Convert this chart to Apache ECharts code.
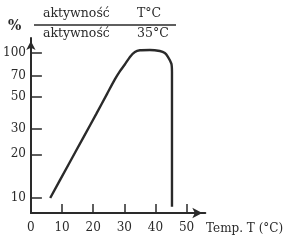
<!DOCTYPE html>
<html><head><meta charset="utf-8">
<script src="https://cdn.jsdelivr.net/npm/echarts@6/dist/echarts.min.js"></script>
<style>html,body{margin:0;padding:0;background:#fff}#c{width:300px;height:242px}</style>
</head><body><div id="c"></div>
<script>
const tempC    = [6.2, 12, 17, 21, 24.5, 27, 28.6, 30.1, 31.8, 33.4, 35, 38.2, 41.4, 43, 44, 45.1, 45.3, 45.3];
const activity = [10, 16.9, 26.5, 38, 52.5, 66, 75, 83, 94, 101.6, 104.4, 105, 103.2, 100, 94, 84.4, 74, 8.7];
const xTicks = [0, 10, 20, 30, 40, 50];
const yTicks = [10, 20, 30, 50, 70, 100];
const xName = 'Temp. T (°C)';
const yUnit = '%';
const numText = 'aktywność', numVal = 'T°C';
const denText = 'aktywność', denVal = '35°C';

const ink = '#2a2a2a';
const font = 'DejaVu Serif';
const chart = echarts.init(document.getElementById('c'), null, {renderer: 'canvas'});
chart.setOption({
  animation: false,
  backgroundColor: '#fff',
  grid: {left: 30, right: 94.7, top: 38, bottom: 29},
  xAxis: {
    type: 'value', min: 0, max: 56,
    axisLine: {show: true, lineStyle: {color: ink, width: 2}, symbol: ['none', 'arrow'], symbolSize: [8, 10], symbolOffset: [0, -3]},
    axisTick: {show: true, inside: true, length: 9, lineStyle: {color: ink, width: 1.5}, customValues: xTicks.slice(1)},
    axisLabel: {customValues: xTicks, margin: 9, color: ink, fontFamily: font, fontSize: 12},
    splitLine: {show: false}
  },
  yAxis: {
    type: 'log', min: 7.88, max: 126.9,
    axisLine: {show: true, lineStyle: {color: ink, width: 2}, symbol: ['none', 'arrow'], symbolSize: [7, 9], symbolOffset: [0, -3]},
    axisTick: {show: true, inside: true, length: 11, lineStyle: {color: ink, width: 1.5}, customValues: yTicks},
    axisLabel: {customValues: yTicks, margin: 5, color: ink, fontFamily: font, fontSize: 12,
      formatter: v => String(Math.round(v))},
    splitLine: {show: false}
  },
  series: [{
    type: 'line', data: tempC.map((t, i) => [t, activity[i]]),
    showSymbol: false, smooth: 0.25,
    lineStyle: {color: ink, width: 2.4}
  }],
  graphic: [
    {type: 'text', left: 8, top: 19, style: {text: yUnit, font: 'bold 14px "DejaVu Serif"', fill: ink}},
    {type: 'text', left: 43, top: 7, style: {text: numText, font: '12.5px "DejaVu Serif"', fill: ink}},
    {type: 'text', left: 137, top: 7, style: {text: numVal, font: '12.5px "DejaVu Serif"', fill: ink}},
    {type: 'line', shape: {x1: 34, y1: 25, x2: 176, y2: 25}, style: {stroke: ink, lineWidth: 1.5}},
    {type: 'text', left: 43, top: 27, style: {text: denText, font: '12.5px "DejaVu Serif"', fill: ink}},
    {type: 'text', left: 137, top: 27, style: {text: denVal, font: '12.5px "DejaVu Serif"', fill: ink}},
    {type: 'text', left: 206, top: 223, style: {text: xName, font: '12px "DejaVu Serif"', fill: ink}}
  ]
});
</script></body></html>
